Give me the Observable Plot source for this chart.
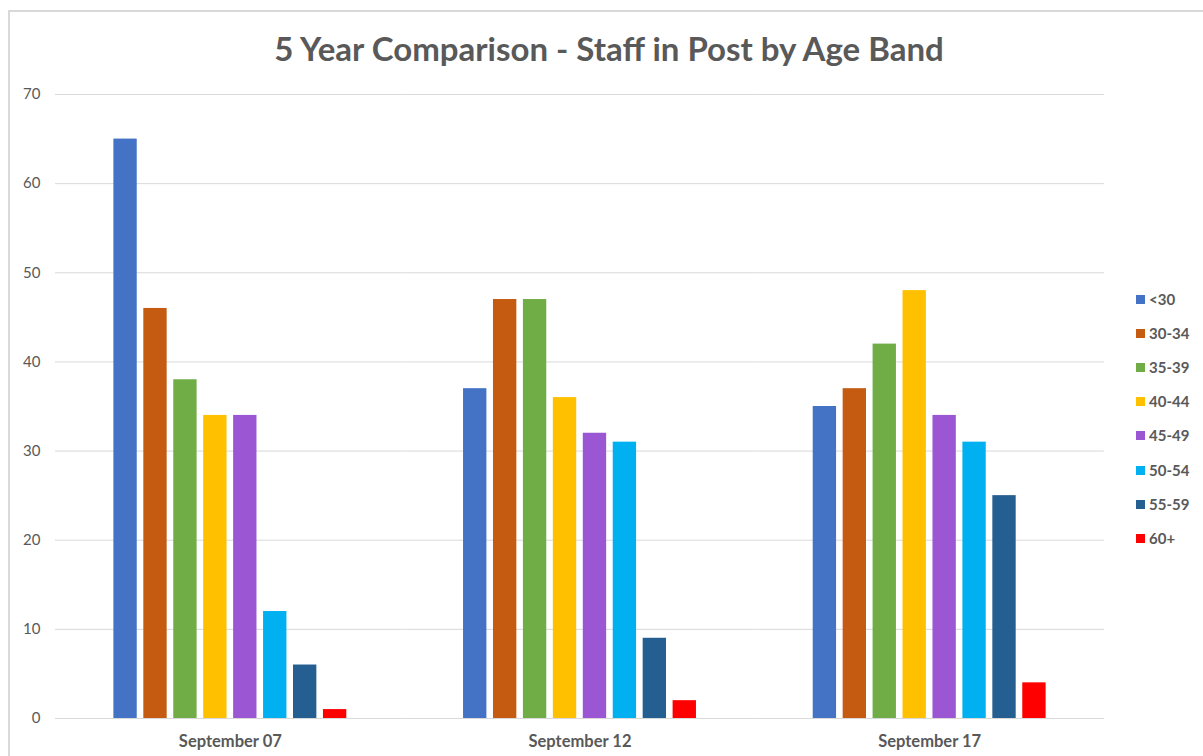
<!DOCTYPE html>
<html>
<head>
<meta charset="utf-8">
<script src="https://cdn.jsdelivr.net/npm/d3@7"></script>
<script src="https://cdn.jsdelivr.net/npm/@observablehq/plot@0.6"></script>
<style>
  html, body { margin: 0; padding: 0; background: #fff; }
  #wrap { position: relative; width: 1203px; height: 756px; overflow: hidden; font-family: Lato, "Open Sans", sans-serif; background: #fff; }
  #frame { position: absolute; left: 8px; top: 10px; width: 1300px; height: 900px; border-left: 2px solid #d9d9d9; border-top: 2px solid #d9d9d9; }
  #title { position: absolute; left: 0; top: 27px; width: 1218px; text-align: center; font-size: 33px; font-weight: bold; color: #595959; line-height: 42px; }
  #chart { position: absolute; left: 0; top: 70px; }
  #legend { position: absolute; left: 1136px; top: 0; }
  .li { position: absolute; left: 0; white-space: nowrap; font-size: 15px; font-weight: bold; color: #595959; line-height: 18px; height: 18px; }
  .sw { display: inline-block; width: 9px; height: 9px; margin-right: 4px; vertical-align: 1px; }
</style>
</head>
<body>
<div id="wrap">
  <div id="frame"></div>
  <div id="title">5 Year Comparison - Staff in Post by Age Band</div>
  <div id="chart"></div>
  <div id="legend"></div>
</div>
<script>
const periods = ["September 07", "September 12", "September 17"];
const bands = ["<30", "30-34", "35-39", "40-44", "45-49", "50-54", "55-59", "60+"];
const colors = ["#4472C4", "#C55A11", "#70AD47", "#FFC000", "#9B57D3", "#00B0F0", "#255E91", "#FF0000"];
const sep07 = [65, 46, 38, 34, 34, 12, 6, 1];
const sep12 = [37, 47, 47, 36, 32, 31, 9, 2];
const sep17 = [35, 37, 42, 48, 34, 31, 25, 4];
const yTicks = [0, 10, 20, 30, 40, 50, 60, 70];

const series = [sep07, sep12, sep17];
const data = [];
periods.forEach((p, i) => bands.forEach((b, j) => data.push({period: p, band: b, value: series[i][j]})));

const chart = Plot.plot({
  width: 1203,
  height: 686,
  marginTop: 24,
  marginBottom: 38,
  marginLeft: 55,
  marginRight: 99,
  style: {fontFamily: "Lato, sans-serif", color: "#595959", background: "transparent", overflow: "visible"},
  fx: {domain: periods, padding: 0, round: false, label: null},
  x: {domain: bands, paddingInner: 0.22, paddingOuter: 1.95, round: false, axis: null},
  y: {domain: [0, 70], label: null},
  color: {domain: bands, range: colors},
  marks: [
    Plot.gridY(yTicks, {stroke: "#d9d9d9", strokeOpacity: 1}),
    Plot.axisY(yTicks, {tickSize: 0, tickPadding: 15, fontSize: 15, label: null, fill: "#595959"}),
    Plot.axisFx({anchor: "bottom", tickSize: 0, tickPadding: 17, fontSize: 16.5, fontWeight: "bold", label: null, fill: "#595959"}),
    Plot.barY(data, {fx: "period", x: "band", y: "value", fill: "band"})
  ]
});
document.getElementById("chart").appendChild(chart);

const legend = document.getElementById("legend");
bands.forEach((b, i) => {
  const d = document.createElement("div");
  d.className = "li";
  d.style.top = (299 - 9 + i * 34.1) + "px";
  const sw = document.createElement("span");
  sw.className = "sw";
  sw.style.background = colors[i];
  d.appendChild(sw);
  d.appendChild(document.createTextNode(b));
  legend.appendChild(d);
});
</script>
</body>
</html>
